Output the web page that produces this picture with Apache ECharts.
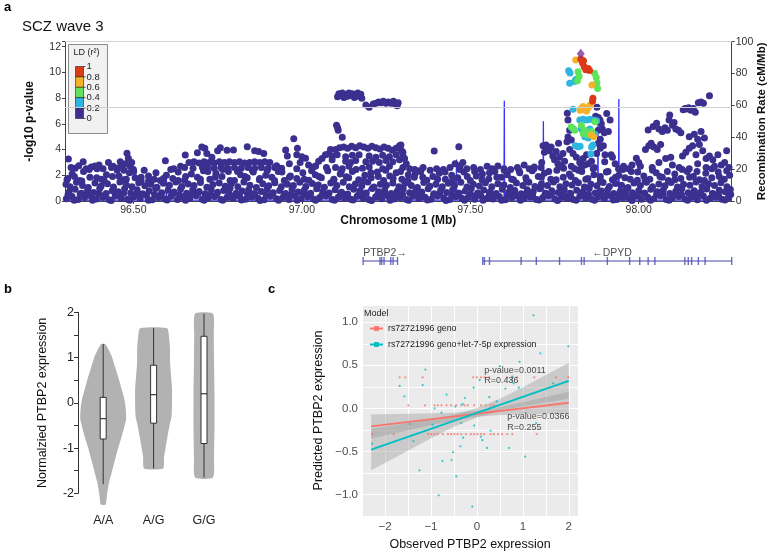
<!DOCTYPE html>
<html><head><meta charset="utf-8">
<script src="https://cdn.jsdelivr.net/npm/echarts@6/dist/echarts.min.js"></script>
<style>html,body{margin:0;padding:0;background:#fff}#chart{width:768px;height:552px}</style>
</head><body><div id="chart"></div>
<script>
// ---------------- Panel a: regional association (Mb, -log10 p) ----------------
const snpBaseLow = [[96.301,0.18],[96.318,0.35],[96.336,0.12],[96.355,0.28],[96.373,0.4],[96.390,0.15],[96.409,0.3],[96.428,0.1],[96.446,0.38],[96.464,0.22],[96.483,0.14],[96.501,0.33],[96.520,0.2],[96.539,0.42],[96.556,0.1],[96.575,0.27],[96.594,0.16],[96.612,0.36],[96.631,0.12],[96.649,0.3],[96.667,0.2],[96.686,0.41],[96.704,0.14],[96.722,0.26],[96.741,0.35],[96.760,0.11],[96.778,0.29],[96.796,0.19],[96.815,0.39],[96.833,0.13],[96.851,0.31],[96.870,0.22],[96.888,0.1],[96.906,0.37],[96.925,0.18],[96.943,0.28],[96.962,0.12],[96.980,0.4],[96.998,0.2],[97.017,0.33],[97.035,0.15],[97.053,0.27],[97.072,0.38],[97.090,0.11],[97.108,0.3],[97.127,0.21],[97.145,0.13],[97.164,0.36],[97.182,0.24],[97.200,0.1],[97.219,0.32],[97.237,0.18],[97.255,0.41],[97.274,0.15],[97.292,0.28],[97.311,0.12],[97.329,0.37],[97.347,0.2],[97.366,0.3],[97.384,0.14],[97.402,0.39],[97.421,0.23],[97.439,0.11],[97.457,0.34],[97.476,0.19],[97.494,0.29],[97.513,0.13],[97.531,0.4],[97.549,0.22],[97.568,0.16],[97.586,0.35],[97.604,0.1],[97.623,0.27],[97.641,0.38],[97.659,0.17],[97.678,0.31],[97.696,0.12],[97.715,0.25],[97.733,0.4],[97.751,0.15],[97.770,0.3],[97.788,0.2],[97.806,0.11],[97.825,0.36],[97.843,0.23],[97.861,0.14],[97.880,0.33],[97.898,0.19],[97.917,0.4],[97.935,0.12],[97.953,0.28],[97.972,0.21],[97.990,0.37],[98.008,0.13],[98.027,0.3],[98.045,0.18],[98.064,0.41],[98.082,0.11],[98.100,0.26],[98.119,0.35],[98.137,0.16],[98.155,0.29],[98.174,0.1],[98.192,0.38],[98.211,0.2],[98.229,0.31],[98.247,0.14],[98.266,0.27]];
const snpBaseFill = [[96.306,0.5],[96.324,0.05],[96.342,0.55],[96.361,0.45],[96.379,0.06],[96.397,0.58],[96.416,0.47],[96.434,0.04],[96.453,0.53],[96.471,0.6],[96.489,0.06],[96.508,0.48],[96.526,0.55],[96.545,0.05],[96.563,0.5],[96.581,0.44],[96.600,0.07],[96.618,0.57],[96.637,0.49],[96.655,0.05],[96.673,0.54],[96.692,0.6],[96.710,0.06],[96.729,0.46],[96.747,0.52],[96.765,0.05],[96.784,0.58],[96.802,0.45],[96.821,0.07],[96.839,0.5],[96.857,0.56],[96.876,0.04],[96.894,0.48],[96.913,0.6],[96.931,0.06],[96.949,0.53],[96.968,0.46],[96.986,0.05],[97.005,0.57],[97.023,0.5],[97.041,0.06],[97.060,0.44],[97.078,0.55],[97.097,0.05],[97.115,0.59],[97.133,0.47],[97.152,0.07],[97.170,0.52],[97.189,0.56],[97.207,0.04],[97.225,0.49],[97.244,0.6],[97.262,0.06],[97.281,0.45],[97.299,0.53],[97.317,0.05],[97.336,0.58],[97.354,0.48],[97.373,0.07],[97.391,0.5],[97.409,0.55],[97.428,0.04],[97.446,0.46],[97.465,0.6],[97.483,0.06],[97.501,0.52],[97.520,0.47],[97.538,0.05],[97.557,0.57],[97.575,0.5],[97.593,0.06],[97.612,0.44],[97.630,0.55],[97.649,0.05],[97.667,0.59],[97.685,0.48],[97.704,0.07],[97.722,0.52],[97.741,0.56],[97.759,0.04],[97.777,0.49],[97.796,0.6],[97.814,0.06],[97.833,0.45],[97.851,0.53],[97.869,0.05],[97.888,0.58],[97.906,0.48],[97.925,0.07],[97.943,0.5],[97.961,0.55],[97.980,0.04],[97.998,0.46],[98.017,0.6],[98.035,0.06],[98.053,0.52],[98.072,0.47],[98.090,0.05],[98.109,0.57],[98.127,0.5],[98.145,0.06],[98.164,0.44],[98.182,0.55],[98.201,0.05],[98.219,0.59],[98.237,0.48],[98.256,0.07],[98.273,0.5]];
const snpBaseMid = [[96.309,0.7],[96.327,0.92],[96.346,0.6],[96.364,0.85],[96.382,0.66],[96.400,0.98],[96.419,0.58],[96.437,0.8],[96.455,0.72],[96.474,0.95],[96.492,0.62],[96.511,0.88],[96.529,0.55],[96.547,0.78],[96.566,0.97],[96.584,0.64],[96.603,0.83],[96.621,0.7],[96.640,0.93],[96.658,0.6],[96.676,0.86],[96.695,0.74],[96.713,0.57],[96.731,0.9],[96.750,0.68],[96.768,0.81],[96.787,0.99],[96.805,0.61],[96.823,0.77],[96.842,0.88],[96.860,0.56],[96.879,0.73],[96.897,0.94],[96.915,0.65],[96.934,0.82],[96.952,0.59],[96.971,0.9],[96.989,0.7],[97.007,0.84],[97.026,0.6],[97.044,0.96],[97.062,0.75],[97.081,0.63],[97.099,0.87],[97.118,0.69],[97.136,0.55],[97.154,0.91],[97.173,0.79],[97.191,0.62],[97.209,0.98],[97.228,0.71],[97.246,0.85],[97.265,0.58],[97.283,0.76],[97.301,0.93],[97.320,0.64],[97.338,0.8],[97.356,0.7],[97.375,0.95],[97.393,0.57],[97.412,0.83],[97.430,0.67],[97.448,0.9],[97.467,0.6],[97.485,0.78],[97.503,0.97],[97.522,0.63],[97.540,0.86],[97.559,0.72],[97.577,0.58],[97.595,0.92],[97.614,0.69],[97.632,0.81],[97.651,0.56],[97.669,0.88],[97.687,0.74],[97.706,0.95],[97.724,0.61],[97.742,0.79],[97.761,0.66],[97.779,0.9],[97.798,0.57],[97.816,0.84],[97.834,0.7],[97.853,0.98],[97.871,0.62],[97.889,0.77],[97.908,0.89],[97.926,0.59],[97.945,0.73],[97.963,0.94],[97.981,0.65],[98.000,0.82],[98.018,0.6],[98.036,0.91],[98.055,0.71],[98.073,0.85],[98.092,0.58],[98.110,0.76],[98.128,0.96],[98.147,0.64],[98.165,0.8],[98.184,0.69],[98.202,0.93],[98.220,0.57],[98.239,0.83],[98.257,0.72],[98.272,0.9]];
const snpBaseHigh = [[96.300,1.3],[96.312,1.1],[96.331,1.45],[96.349,1.2],[96.366,1.05],[96.386,1.4],[96.404,1.15],[96.423,1.35],[96.441,1.08],[96.460,1.48],[96.479,1.25],[96.496,1.1],[96.516,1.42],[96.534,1.18],[96.552,1.3],[96.570,1.06],[96.589,1.38],[96.607,1.22],[96.626,1.47],[96.644,1.12],[96.663,1.33],[96.680,1.2],[96.699,1.44],[96.718,1.07],[96.736,1.28],[96.755,1.4],[96.773,1.15],[96.791,1.36],[96.810,1.1],[96.828,1.48],[96.846,1.23],[96.865,1.05],[96.884,1.35],[96.902,1.18],[96.920,1.42],[96.939,1.1],[96.957,1.3],[96.975,1.2],[96.994,1.46],[97.012,1.12],[97.031,1.37],[97.049,1.25],[97.067,1.06],[97.086,1.4],[97.104,1.2],[97.123,1.45],[97.141,1.1],[97.159,1.32],[97.178,1.18],[97.196,1.47],[97.214,1.08],[97.233,1.3],[97.251,1.22],[97.270,1.4],[97.288,1.1],[97.306,1.36],[97.325,1.2],[97.343,1.05],[97.362,1.43],[97.380,1.15],[97.398,1.3],[97.417,1.1],[97.435,1.38],[97.453,1.22],[97.472,1.46],[97.490,1.08],[97.509,1.3],[97.527,1.17],[97.545,1.42],[97.564,1.1],[97.582,1.34],[97.600,1.24],[97.619,1.05],[97.637,1.4],[97.656,1.2],[97.674,1.45],[97.692,1.12],[97.711,1.33],[97.729,1.2],[97.747,1.47],[97.766,1.1],[97.784,1.35],[97.802,1.25],[97.821,1.42],[97.839,1.08],[97.858,1.3],[97.876,1.18],[97.894,1.44],[97.913,1.12],[97.931,1.36],[97.949,1.22],[97.968,1.05],[97.986,1.4],[98.005,1.2],[98.023,1.46],[98.041,1.1],[98.060,1.32],[98.078,1.18],[98.096,1.43],[98.115,1.08],[98.133,1.3],[98.152,1.22],[98.170,1.47],[98.188,1.12],[98.207,1.35],[98.225,1.2],[98.244,1.42],[98.262,1.1]];
const snpBaseTop = [[96.305,1.75],[96.318,2.1],[96.340,1.6],[96.352,2.3],[96.371,1.85],[96.392,2.5],[96.405,1.7],[96.420,2.05],[96.438,1.9],[96.452,2.4],[96.470,1.65],[96.488,2.2],[96.505,1.8],[96.523,1.55],[96.545,1.95],[96.562,1.7],[96.580,1.6],[96.598,2.0],[96.617,1.75],[96.633,2.25],[96.652,1.62],[96.672,2.1],[96.690,1.85],[96.708,2.35],[96.727,1.7],[96.745,2.15],[96.763,1.9],[96.782,2.3],[96.800,1.6],[96.818,2.05],[96.838,1.8],[96.856,2.25],[96.874,1.65],[96.893,2.0],[96.911,1.85],[96.930,2.3],[96.948,1.6],[96.966,1.95],[96.985,1.75],[97.003,2.2],[97.021,1.62],[97.040,2.05],[97.058,1.8],[97.077,2.35],[97.095,1.7],[97.114,2.1],[97.132,1.88],[97.150,2.3],[97.169,1.65],[97.187,2.0],[97.206,1.8],[97.224,2.25],[97.243,1.6],[97.261,1.95],[97.280,2.2],[97.297,1.7],[97.316,2.05],[97.334,1.85],[97.353,2.3],[97.371,1.62],[97.389,1.9],[97.408,2.15],[97.426,1.7],[97.445,2.0],[97.463,1.8],[97.481,2.25],[97.500,1.6],[97.518,1.95],[97.536,2.1],[97.555,1.72],[97.573,2.3],[97.592,1.85],[97.610,2.05],[97.628,1.65],[97.647,2.2],[97.665,1.8],[97.684,2.35],[97.702,1.9],[97.720,2.15],[97.739,1.7],[97.757,2.4],[97.776,1.85],[97.794,2.1],[97.812,1.6],[97.831,2.3],[97.849,1.75],[97.867,2.05],[97.886,1.9],[97.904,2.25],[97.922,1.65],[97.941,2.0],[97.959,1.8],[97.978,2.3],[97.996,1.62],[98.015,1.95],[98.033,1.7],[98.052,2.2],[98.070,1.85],[98.088,1.6],[98.107,2.1],[98.125,1.75],[98.144,2.3],[98.162,1.9],[98.180,1.65],[98.199,2.15],[98.217,1.8],[98.236,2.25],[98.254,1.7],[98.270,2.0]];
const snpBaseUpper = [[96.303,1.65],[96.325,1.9],[96.347,1.55],[96.369,2.45],[96.391,1.8],[96.413,1.6],[96.435,2.6],[96.457,1.95],[96.479,1.7],[96.501,2.3],[96.523,1.85],[96.545,1.58],[96.567,2.2],[96.589,1.75],[96.611,2.45],[96.633,1.6],[96.655,1.9],[96.677,2.55],[96.699,1.7],[96.721,2.3],[96.743,1.85],[96.765,2.45],[96.787,1.6],[96.809,2.3],[96.831,1.9],[96.853,2.4],[96.875,1.75],[96.897,2.35],[96.919,1.6],[96.941,2.25],[96.963,1.85],[96.985,2.5],[97.007,1.7],[97.029,2.35],[97.051,1.9],[97.073,2.6],[97.095,1.65],[97.117,2.3],[97.139,1.8],[97.161,2.45],[97.183,1.6],[97.205,2.2],[97.227,1.9],[97.249,2.4],[97.271,1.75],[97.293,2.3],[97.315,1.6],[97.337,2.15],[97.359,1.85],[97.381,2.4],[97.403,1.7],[97.425,2.25],[97.447,1.6],[97.469,2.45],[97.491,1.9],[97.513,2.3],[97.535,1.65],[97.557,2.2],[97.579,1.85],[97.601,2.4],[97.623,1.7],[97.645,2.35],[97.667,1.6],[97.689,2.5],[97.711,1.85],[97.733,2.3],[97.755,1.65],[97.777,2.55],[97.799,1.9],[97.821,2.4],[97.843,1.7],[97.865,2.5],[97.887,1.6],[97.909,2.3],[97.931,1.85],[97.953,2.45],[97.975,1.7],[97.997,2.25],[98.019,1.6],[98.041,2.4],[98.063,1.9],[98.085,2.3],[98.107,1.65],[98.129,2.45],[98.151,1.85],[98.173,2.3],[98.195,1.6],[98.217,2.5],[98.239,1.9],[98.261,2.35]];
const snpPeaksWest = [[96.307,3.27],[96.315,2.6],[96.327,2.54],[96.338,2.75],[96.351,3.06],[96.36,2.5],[96.375,2.65],[96.386,2.72],[96.398,2.8],[96.41,2.5],[96.426,3.0],[96.44,2.7],[96.452,2.55],[96.461,3.06],[96.466,2.75],[96.472,2.4],[96.476,2.9],[96.481,3.71],[96.485,3.32],[96.49,2.7],[96.495,3.0],[96.5,2.45],[96.532,2.4],[96.595,3.13],[96.62,2.5],[96.64,2.7],[96.654,3.58],[96.652,2.6],[96.665,3.0],[96.68,3.05],[96.69,3.75],[96.695,2.95],[96.703,4.2],[96.712,4.1],[96.718,3.7],[96.705,2.6],[96.71,3.05],[96.72,2.6],[96.725,3.0],[96.733,3.4],[96.74,2.95],[96.74,2.55],[96.75,3.9],[96.755,3.05],[96.758,4.15],[96.76,2.6],[96.77,3.0],[96.78,2.55],[96.778,3.95],[96.785,3.05],[96.797,3.96],[96.8,2.6],[96.8,3.0],[96.815,3.05],[96.82,2.55],[96.83,2.95],[96.838,4.22],[96.845,3.0],[96.84,2.6],[96.86,3.9],[96.86,3.05],[96.86,2.55],[96.872,3.85],[96.875,3.0],[96.88,2.6],[96.887,3.7],[96.89,3.05],[96.9,2.55],[96.905,3.0],[96.92,2.6],[96.925,2.75],[96.94,2.55],[96.952,3.96],[96.957,3.5],[96.963,2.9],[96.976,4.85],[96.987,4.1],[96.985,3.6],[96.995,3.0],[97.0,3.45],[97.011,3.32],[97.02,2.8],[97.035,2.65],[97.041,2.72],[97.05,3.1],[97.06,3.3],[97.07,3.6],[97.078,3.65],[97.085,4.0],[97.09,3.2]];
const snpPeaksPtbp2 = [[97.106,8.1],[97.110,8.35],[97.115,8.2],[97.12,8.4],[97.125,8.05],[97.13,8.3],[97.136,8.15],[97.14,8.4],[97.146,8.2],[97.15,8.35],[97.156,8.05],[97.16,8.25],[97.166,8.4],[97.17,8.15],[97.175,8.3],[97.178,8.0],[97.19,7.46],[97.2,7.3],[97.212,7.55],[97.22,7.6],[97.228,7.7],[97.235,7.65],[97.242,7.75],[97.25,7.6],[97.257,7.7],[97.265,7.6],[97.272,7.75],[97.278,7.55],[97.283,7.4],[97.286,7.65],[97.103,5.9],[97.106,5.7],[97.108,5.5],[97.12,4.95],[97.1,4.0],[97.112,4.15],[97.124,4.2],[97.136,4.1],[97.148,4.25],[97.16,4.15],[97.172,4.3],[97.184,4.2],[97.196,4.1],[97.208,4.25],[97.22,4.15],[97.232,4.05],[97.244,4.2],[97.256,4.1],[97.268,3.95],[97.28,4.1],[97.29,4.3],[97.296,3.9],[97.09,3.5],[97.105,3.6],[97.13,3.45],[97.15,3.55],[97.17,3.6],[97.2,3.5],[97.22,3.4],[97.24,3.55],[97.26,3.45],[97.28,3.6],[97.3,3.5],[97.13,3.1],[97.145,3.0],[97.16,3.15],[97.19,3.05],[97.21,3.1],[97.23,3.0],[97.25,3.15],[97.27,3.05],[97.29,3.2],[97.1,2.6],[97.12,2.5],[97.14,2.7],[97.18,2.55],[97.2,2.65],[97.24,2.5],[97.26,2.7],[97.3,2.6]];
const snpPeaksMiddle = [[97.294,4.35],[97.3,3.8],[97.305,3.3],[97.31,2.9],[97.32,2.5],[97.335,2.45],[97.349,2.36],[97.36,2.6],[97.393,3.89],[97.4,2.5],[97.42,2.45],[97.44,2.6],[97.455,2.9],[97.466,4.22],[97.47,2.75],[97.478,3.0],[97.49,2.5],[97.51,2.6],[97.53,2.45],[97.55,2.7],[97.565,2.5],[97.582,2.72],[97.6,2.5],[97.62,2.45],[97.64,2.6],[97.66,2.8],[97.675,2.5],[97.69,2.65],[97.71,2.6],[97.712,3.0],[97.716,4.3],[97.72,3.8],[97.725,4.35],[97.73,4.1],[97.735,3.9],[97.74,4.2],[97.745,3.5],[97.75,3.2],[97.755,3.85],[97.76,2.9],[97.762,4.5],[97.765,3.4],[97.77,2.7],[97.775,3.7],[97.78,3.1]];
const snpPeaksDpyd = [[97.788,6.82],[97.79,6.3],[97.795,5.5],[97.79,4.97],[97.8,4.74],[97.787,4.6],[97.795,4.0],[97.805,3.7],[97.815,3.4],[97.825,3.0],[97.835,3.3],[97.845,3.6],[97.85,2.9],[97.86,3.1],[97.868,2.6],[97.8,2.7],[97.81,2.5],[97.83,2.6],[97.84,2.8],[97.872,6.6],[97.876,7.3],[97.88,6.5],[97.885,6.3],[97.889,6.0],[97.892,5.6],[97.88,5.5],[97.898,5.3],[97.905,6.8],[97.91,5.4],[97.915,6.3],[97.886,4.8],[97.886,4.1],[97.9,3.6],[97.918,3.6],[97.922,3.4],[97.899,3.06],[97.875,3.7],[97.88,4.5],[97.895,4.3],[97.93,2.9],[97.94,2.5],[97.955,2.7],[97.97,2.5],[97.98,2.8],[97.993,3.32],[98.0,3.0],[98.005,2.7],[98.02,4.0],[98.028,5.52],[98.03,4.3],[98.037,4.5],[98.043,5.8],[98.045,4.2],[98.053,6.04],[98.055,4.0],[98.06,5.6],[98.065,4.4],[98.07,5.4],[98.078,5.7],[98.085,5.5],[98.092,6.69],[98.09,6.3],[98.095,3.4],[98.1,5.9],[98.105,6.1],[98.11,5.6],[98.118,5.5],[98.125,5.3],[98.13,3.5],[98.132,7.1],[98.138,7.2],[98.142,7.15],[98.148,7.25],[98.155,7.05],[98.162,7.2],[98.168,6.9],[98.177,7.65],[98.185,7.7],[98.192,7.6],[98.21,8.19],[98.14,3.8],[98.15,4.1],[98.16,4.3],[98.17,3.6],[98.18,4.4],[98.19,3.9],[98.2,3.3],[98.21,3.5],[98.22,3.2],[98.235,3.6],[98.245,2.8],[98.255,3.0],[98.261,3.9],[98.268,2.6],[98.04,2.6],[98.06,3.0],[98.08,3.3],[98.1,2.8],[98.12,2.6],[98.15,2.5],[98.175,2.9],[98.2,2.6],[98.225,2.7],[98.15,5.0],[98.165,5.2],[98.175,4.8],[98.185,5.4],[98.195,4.9]];
const snpLd02 = [[97.792,10.13],[97.796,9.95],[97.795,9.15],[97.81,9.3],[97.813,9.45],[97.805,7.13],[97.825,6.3],[97.835,6.35],[97.845,6.3],[97.855,6.35],[97.865,6.3],[97.875,6.25],[97.83,5.6],[97.84,5.0],[97.85,4.9],[97.855,5.6],[97.82,4.22],[97.826,4.25],[97.86,4.2],[97.864,4.35],[97.858,3.65],[97.812,4.3],[97.85,5.3],[97.87,5.2],[97.805,5.62]];
const snpLd04 = [[97.82,10.05],[97.823,9.7],[97.818,9.35],[97.869,9.93],[97.874,9.6],[97.876,9.2],[97.878,8.75],[97.8,5.75],[97.83,5.9],[97.84,5.5],[97.86,5.4],[97.848,5.15],[97.81,5.5],[97.87,6.17],[97.835,5.25]];
const snpLd06 = [[97.813,10.96],[97.861,9.02],[97.83,7.2],[97.835,7.35],[97.84,7.1],[97.845,7.0],[97.85,7.25],[97.855,7.45],[97.826,7.05],[97.866,5.0],[97.86,5.13]];
const snpLd08 = [[97.828,11.05],[97.833,10.75],[97.838,10.45],[97.843,10.2],[97.850,10.3],[97.854,10.15],[97.836,10.9],[97.864,7.99],[97.863,7.75]];
const leadSnp = [[97.828,11.45]];
const recombPos  = [96.297,96.597,96.598,96.599,97.197,97.198,97.199,97.458,97.459,97.460,97.600,97.601,97.602,97.716,97.717,97.718,97.878,97.879,97.880,97.940,97.941,97.942,98.276];
const recombRate = [0.5,0.5,15,0.5,0.5,8,0.5,0.5,26,0.5,0.5,63,0.5,0.5,50,0.5,0.5,52,0.5,0.5,64,0.5,0.5];
const gwsThreshold = 7.3;
const axisTicksMb = [96.5,97.0,97.5,98.0];
const ldLegendLabels = ['1','0.8','0.6','0.4','0.2','0'];
// genes
const geneNames  = ['PTBP2\u2192','\u2190DPYD'];
const geneStarts = [97.182,97.537];
const geneEnds   = [97.284,98.276];
const geneLabelPos = [97.182,97.862];
const ptbp2Exons = [97.182,97.232,97.237,97.244,97.264,97.271,97.284];
const dpydExons  = [97.537,97.542,97.557,97.651,97.696,97.765,97.830,97.838,97.907,97.973,98.003,98.028,98.048,98.137,98.147,98.157,98.177,98.197,98.276];

// ---------------- Panel b: violins ----------------
const genotypes = ['A/A','A/G','G/G'];
const violinAA = [[-2.25,2.5],[-2.1,3.5],[-2.0,4],[-1.75,6],[-1.5,9],[-1.25,12],[-1.0,15],[-0.75,18.5],[-0.5,21.5],[-0.35,23],[-0.1,22.5],[0.1,21],[0.3,18.5],[0.5,16],[0.75,12.5],[1.0,9],[1.15,6],[1.3,2]];
const violinAG = [[-1.45,9.5],[-1.2,10.5],[-1.0,12],[-0.8,13.5],[-0.5,16],[-0.3,18],[0,18.5],[0.3,18.5],[0.6,17.5],[0.9,16.5],[1.2,16.5],[1.45,15.5],[1.65,13.5]];
const violinGG = [[-1.65,9],[-1.2,10],[-0.5,10.5],[0.2,10.5],[1.0,10],[1.5,9.8],[1.97,9]];
const boxMin    = [-1.8,-1.45,-1.65];
const boxQ1     = [-0.8,-0.45,-0.9];
const boxMedian = [-0.35,0.18,0.2];
const boxQ3     = [0.12,0.83,1.47];
const boxMax    = [1.3,1.65,1.97];

// ---------------- Panel c: predicted vs observed ----------------
const modelNames = ['rs72721996 geno','rs72721996 geno+let-7-5p expression'];
const genoFit = [[-2.3,-0.21],[2,0.065]];
const fullFit = [[-2.3,-0.48],[2,0.32]];
const bandX = [-2.3,-1.5,-1,-0.5,0,0.5,1,1.5,2];
const genoBandLow  = [-0.35,-0.254,-0.197,-0.14,-0.098,-0.076,-0.069,-0.067,-0.065];
const genoBandHigh = [-0.07,-0.064,-0.057,-0.05,-0.028,0.014,0.071,0.133,0.195];
const fullBandLow  = [-0.72,-0.491,-0.348,-0.215,-0.107,-0.029,0.024,0.067,0.11];
const fullBandHigh = [-0.24,-0.171,-0.128,-0.075,0.003,0.111,0.244,0.387,0.53];
const genoPred = [[-1.68,0.36],[-1.56,0.36],[-1.18,0.36],[-0.08,0.36],[0,0.36],[0.09,0.36],[0.17,0.36],[0.27,0.36],[0.66,0.36],[0.78,0.36],[0.87,0.36],[1.25,0.36],[1.72,0.36],[1.99,0.36],
 [-1.49,0.035],[-1.13,0.035],[-0.92,0.035],[-0.85,0.035],[-0.77,0.035],[-0.66,0.035],[-0.56,0.035],[-0.45,0.035],[-0.34,0.035],[-0.27,0.035],[-0.2,0.035],[-0.06,0.035],[0.09,0.035],[0.19,0.035],[0.3,0.035],[0.37,0.035],
 [-2.28,-0.3],[-1.81,-0.3],[-1.06,-0.3],[-0.99,-0.3],[-0.92,-0.3],[-0.85,-0.3],[-0.74,-0.3],[-0.63,-0.3],[-0.56,-0.3],[-0.49,-0.3],[-0.42,-0.3],[-0.34,-0.3],[-0.24,-0.3],[-0.13,-0.3],[-0.06,-0.3],[0.01,-0.3],[0.09,-0.3],[0.16,-0.3],[0.3,-0.3],[0.37,-0.3],[0.46,-0.3],[0.55,-0.3],[0.66,-0.3],[0.77,-0.3],[1.3,-0.3]];
const fullPred = [[1.23,1.08],[1.99,0.72],[1.38,0.64],[0.93,0.54],[0.5,0.49],[-1.12,0.45],[-1.18,0.27],[-1.68,0.26],[-1.58,0.14],[-0.66,0.16],[-0.26,0.12],[-0.07,0.24],[0.06,0.33],[0.27,0.13],[0.43,0.08],[0.62,0.23],[0.77,0.37],[0.8,0.29],[0.91,0.24],[0.75,0.33],[1.95,0.31],[1.66,0.29],[-0.92,0.0],[-0.77,-0.05],[-0.47,0.02],[-0.31,0.05],[-1.46,-0.18],[-0.97,-0.19],[-0.34,-0.17],[-0.06,-0.2],[0.3,-0.26],[-0.3,-0.34],[0.09,-0.33],[-1.38,-0.38],[-2.28,-0.41],[-0.36,-0.44],[0.12,-0.37],[0.22,-0.46],[0.7,-0.46],[-0.52,-0.51],[-0.75,-0.61],[-0.55,-0.6],[-1.25,-0.72],[-0.45,-0.79],[1.05,-0.56],[-0.83,-1.01],[-0.1,-1.14],[1.29,-0.17]];
const annoX = [0.16,0.16,0.66,0.66];
const annoY = [0.44,0.32,-0.1,-0.22];
const annoText = ['p-value=0.0011','R=0.436','p-value=0.0366','R=0.255'];

// ---------------- styles ----------------
const FONT = "'Liberation Sans', Arial, Helvetica, sans-serif";
const ldColors = ['#3b2f8f','#2fb6de','#5ee35b','#f6b12a','#dc3a16'];
const leadColor = '#7d3598';
const geneColor = '#4848b2';
const RED = '#F8766D', CYAN = '#00BFC4';
const BAND_FILL = 'rgba(153,153,153,0.4)';

const chart = echarts.init(document.getElementById('chart'), null, {renderer:'canvas'});
const violins = [violinAA, violinAG, violinGG];
const densityToBand = 1/50.5;
const boxFrac = 6/50.5;
const minus = v => (v < 0 ? '\u2212' : '') + Math.abs(v);
function pairs(xs, ys){ return xs.map((x,i)=>[x, ys[i]]); }

const purple = [].concat(snpBaseLow, snpBaseFill, snpBaseMid, snpBaseHigh, snpBaseTop, snpBaseUpper, snpPeaksWest, snpPeaksPtbp2, snpPeaksMiddle, snpPeaksDpyd);
const scatterA = (data, color, z) => ({type:'scatter', xAxisIndex:0, yAxisIndex:0, data, symbol:'circle', symbolSize:7, itemStyle:{color, opacity:1}, z, silent:true});

function bandSeries(low, high){
  return {type:'custom', xAxisIndex:3, yAxisIndex:4, silent:true, z:1, clip:true,
    data:[[bandX[0], low[0]]],
    renderItem:function(params, api){
      const top = bandX.map((x,i)=>api.coord([x, high[i]]));
      const bot = bandX.map((x,i)=>api.coord([x, low[i]])).reverse();
      return {type:'polygon', shape:{points:top.concat(bot)}, style:{fill:BAND_FILL}};
    }};
}

const ldLegend = {type:'group', left:68, top:44, z:100, children:[
  {type:'rect', shape:{x:0,y:0,width:39,height:89}, style:{fill:'#f1f1f1', stroke:'#8a8a8a', lineWidth:1}},
  {type:'text', x:5, y:4, style:{text:'LD (r\u00b2)', font:'9px '+FONT, fill:'#222'}},
].concat(ldColors.slice().reverse().map((c,i)=>({type:'rect', shape:{x:7,y:22+i*10.4,width:8,height:10.4}, style:{fill:c, stroke:'#222', lineWidth:0.6}})))
 .concat(ldLegendLabels.map((t,i)=>({type:'text', x:18, y:22+i*10.4, style:{text:t, font:'9.5px '+FONT, fill:'#222', verticalAlign:'middle'}})))
 .concat(ldLegendLabels.map((t,i)=>({type:'line', shape:{x1:15,y1:22+i*10.4,x2:17,y2:22+i*10.4}, style:{stroke:'#222', lineWidth:0.8}})))
};

const option = {
  animation:false,
  textStyle:{fontFamily:FONT},
  grid:[
    {left:65, top:41.7, width:666.7, height:159.3, outerBoundsMode:'none', containLabel:false},
    {left:65, top:250, width:666.7, height:20, outerBoundsMode:'none', containLabel:false},
    {left:78, top:312.3, width:151.2, height:181, outerBoundsMode:'none', containLabel:false},
    {left:362, top:305, width:216, height:211, show:true, backgroundColor:'#EBEBEB', borderWidth:0, outerBoundsMode:'none', containLabel:false}
  ],
  xAxis:[
    {gridIndex:0, type:'value', min:96.297, max:98.276,
     axisLine:{show:true, onZero:false, lineStyle:{color:'#444', width:1}},
     axisTick:{show:true, customValues:axisTicksMb, length:3, lineStyle:{color:'#444'}},
     axisLabel:{customValues:axisTicksMb, formatter:v=>v.toFixed(2), fontSize:10.5, color:'#333', margin:4},
     splitLine:{show:false},
     name:'Chromosome 1 (Mb)', nameLocation:'middle', nameGap:14, nameMoveOverlap:false, nameTextStyle:{fontWeight:'bold', fontSize:12, color:'#111', verticalAlign:'top'}},
    {gridIndex:1, type:'value', min:96.297, max:98.276, show:false},
    {gridIndex:2, type:'category', data:genotypes, axisLine:{show:false}, axisTick:{show:false}, axisLabel:{fontSize:12.5, color:'#222', margin:21}},
    {gridIndex:3, type:'value', min:-2.5, max:2.2, interval:0.5, axisLine:{show:false}, axisTick:{show:false},
     splitLine:{show:true, lineStyle:{color:'#ffffff', width:1}},
     axisLabel:{formatter:v=>Number.isInteger(v)?minus(v):'', fontSize:11.5, color:'#4D4D4D', margin:5, showMaxLabel:false},
     name:'Observed PTBP2 expression', nameLocation:'middle', nameGap:22, nameTextStyle:{fontSize:12.5, color:'#111'}}
  ],
  yAxis:[
    {gridIndex:0, type:'value', min:0, max:12.39, interval:2, position:'left',
     axisLine:{show:true, lineStyle:{color:'#444'}}, axisTick:{show:true, length:3, lineStyle:{color:'#444'}},
     axisLabel:{formatter:v=>(v%2===0?String(v):''), fontSize:10.5, color:'#333', margin:4},
     splitLine:{show:false},
     name:'-log10 p-value', nameLocation:'middle', nameRotate:90, nameGap:29, nameTextStyle:{fontWeight:'bold', fontSize:12, color:'#111'}},
    {gridIndex:0, type:'value', min:0, max:100, interval:20, position:'right',
     axisLine:{show:true, lineStyle:{color:'#444'}}, axisTick:{show:true, length:3, lineStyle:{color:'#444'}},
     axisLabel:{fontSize:10.5, color:'#333', margin:4}, splitLine:{show:false},
     name:'Recombination Rate (cM/Mb)', nameLocation:'middle', nameRotate:90, nameGap:24, nameMoveOverlap:false, nameTextStyle:{fontWeight:'bold', fontSize:11.5, color:'#111'}},
    {gridIndex:1, type:'value', min:0, max:1, show:false},
    {gridIndex:2, type:'value', min:-2, max:2, interval:0.5,
     axisLine:{show:true, lineStyle:{color:'#333'}}, axisTick:{show:true, length:4, lineStyle:{color:'#333'}},
     axisLabel:{formatter:v=>(Number.isInteger(v)?String(v):''), fontSize:12.5, color:'#222', margin:4},
     splitLine:{show:false},
     name:'Normalzied PTBP2 expression', nameLocation:'middle', nameRotate:90, nameGap:29, nameTextStyle:{fontSize:12.5, color:'#111'}},
    {gridIndex:3, type:'value', min:-1.25, max:1.2, interval:0.25, axisLine:{show:false}, axisTick:{show:false},
     splitLine:{show:true, lineStyle:{color:'#ffffff', width:1}},
     axisLabel:{formatter:v=>(Math.abs(v*2-Math.round(v*2))<1e-9 ? (v<0?'\u2212':'')+Math.abs(v).toFixed(1) : ''), fontSize:11.5, color:'#4D4D4D', margin:4, showMaxLabel:false},
     name:'Predicted PTBP2 expression', nameLocation:'middle', nameRotate:90, nameGap:37, nameTextStyle:{fontSize:12.5, color:'#111'}}
  ],
  legend:{show:true, data:modelNames, orient:'vertical', left:364, top:319, itemWidth:13, itemHeight:6, itemGap:7, z:20,
    textStyle:{fontSize:8.8, color:'#222', fontFamily:FONT}, selectedMode:false},
  graphic:[
    {type:'text', left:4, top:1, z:100, style:{text:'a', font:'bold 13px '+FONT, fill:'#000'}},
    {type:'text', left:22, top:19, z:100, style:{text:'SCZ wave 3', font:'15px '+FONT, fill:'#111'}},
    {type:'text', left:4, top:283, z:100, style:{text:'b', font:'bold 13px '+FONT, fill:'#000'}},
    {type:'text', left:268, top:283, z:100, style:{text:'c', font:'bold 13px '+FONT, fill:'#000'}},
    {type:'text', left:364, top:309, z:100, style:{text:'Model', font:'9px '+FONT, fill:'#222'}},
    ldLegend
  ],
  series:[
    {type:'line', xAxisIndex:0, yAxisIndex:1, data:pairs(recombPos, recombRate), showSymbol:false, symbol:'none',
     lineStyle:{color:'#3535ff', width:1.3}, z:1, silent:true,
     markLine:{silent:true, symbol:'none', label:{show:false}, lineStyle:{color:'#d4d4d4', width:1, type:'solid'}, data:[{yAxis:100}]}},
    Object.assign(scatterA(purple, ldColors[0], 2), {markLine:{silent:true, symbol:'none', label:{show:false}, lineStyle:{color:'#cfcfcf', width:1, type:'solid'}, data:[{yAxis:gwsThreshold}]}}),
    scatterA(snpLd02, ldColors[1], 3),
    scatterA(snpLd04, ldColors[2], 3),
    scatterA(snpLd06, ldColors[3], 3),
    scatterA(snpLd08, ldColors[4], 3),
    {type:'scatter', xAxisIndex:0, yAxisIndex:0, data:leadSnp, symbol:'diamond', symbolSize:[8,10], itemStyle:{color:leadColor}, z:4, silent:true},
    // gene track
    ...geneNames.map((g,i)=>({type:'line', xAxisIndex:1, yAxisIndex:2, data:[[geneStarts[i],0.45],[geneEnds[i],0.45]], symbol:'none', lineStyle:{color:geneColor, width:1.2}, silent:true, clip:false})),
    {type:'scatter', xAxisIndex:1, yAxisIndex:2, data:ptbp2Exons.concat(dpydExons).map(x=>[x,0.45]), symbol:'rect', symbolSize:[1.4,8], itemStyle:{color:geneColor}, silent:true, clip:false},
    {type:'scatter', xAxisIndex:1, yAxisIndex:2, data:geneLabelPos.map((x,i)=>({value:[x,0.85], name:geneNames[i]})), symbolSize:0,
     label:{show:true, position:'right', distance:0, formatter:p=>p.name, fontSize:10.5, color:'#222', fontFamily:FONT}, silent:true},
    // panel b
    {type:'custom', xAxisIndex:2, yAxisIndex:3, clip:false, silent:true,
     data:genotypes.map((g,i)=>[i, boxMin[i], boxMax[i]]),
     renderItem:function(params, api){
       const i = params.dataIndex, dens = violins[i];
       const bw = api.size([1,0])[0];
       const cx = api.coord([i,0])[0];
       const pts = [];
       dens.forEach(d=>{ pts.push([cx - d[1]*densityToBand*bw, api.coord([i,d[0]])[1]]); });
       for (let k=dens.length-1;k>=0;k--){ pts.push([cx + dens[k][1]*densityToBand*bw, api.coord([i,dens[k][0]])[1]]); }
       return {type:'polygon', shape:{points:pts, smooth:0.2}, style:{fill:'#b2b2b2', stroke:'none'}};
     }},
    {type:'custom', xAxisIndex:2, yAxisIndex:3, clip:false, silent:true, z:3,
     data:genotypes.map((g,i)=>[i, boxMin[i], boxMax[i]]),
     renderItem:function(params, api){
       const i = params.dataIndex;
       const bw = api.size([1,0])[0];
       const half = bw*boxFrac/2;
       const cx = api.coord([i,0])[0];
       const y = v => api.coord([i,v])[1];
       return {type:'group', children:[
         {type:'line', shape:{x1:cx,y1:y(boxMin[i]),x2:cx,y2:y(boxMax[i])}, style:{stroke:'#333', lineWidth:1}},
         {type:'rect', shape:{x:cx-half, y:y(boxQ3[i]), width:2*half, height:y(boxQ1[i])-y(boxQ3[i])}, style:{fill:'#fff', stroke:'#333', lineWidth:1}},
         {type:'line', shape:{x1:cx-half,y1:y(boxMedian[i]),x2:cx+half,y2:y(boxMedian[i])}, style:{stroke:'#333', lineWidth:1.2}}
       ]};
     }},
    // panel c
    bandSeries(genoBandLow, genoBandHigh),
    bandSeries(fullBandLow, fullBandHigh),
    {type:'scatter', xAxisIndex:3, yAxisIndex:4, data:genoPred, symbolSize:2.2, itemStyle:{color:RED}, silent:true, z:2},
    {type:'scatter', xAxisIndex:3, yAxisIndex:4, data:fullPred, symbolSize:2.2, itemStyle:{color:CYAN}, silent:true, z:2},
    {type:'line', name:modelNames[0], xAxisIndex:3, yAxisIndex:4, data:genoFit, symbol:'rect', symbolSize:4, showSymbol:false, lineStyle:{color:RED, width:1.8}, itemStyle:{color:RED}, silent:true, z:3},
    {type:'line', name:modelNames[1], xAxisIndex:3, yAxisIndex:4, data:fullFit, symbol:'rect', symbolSize:4, showSymbol:false, lineStyle:{color:CYAN, width:1.8}, itemStyle:{color:CYAN}, silent:true, z:3},
    {type:'scatter', xAxisIndex:3, yAxisIndex:4, data:annoX.map((x,i)=>({value:[x,annoY[i]], name:annoText[i]})), symbolSize:0,
     label:{show:true, position:'right', distance:0, formatter:p=>p.name, fontSize:9, color:'#222', fontFamily:FONT}, silent:true, z:4}
  ]
};
chart.setOption(option);
</script></body></html>
